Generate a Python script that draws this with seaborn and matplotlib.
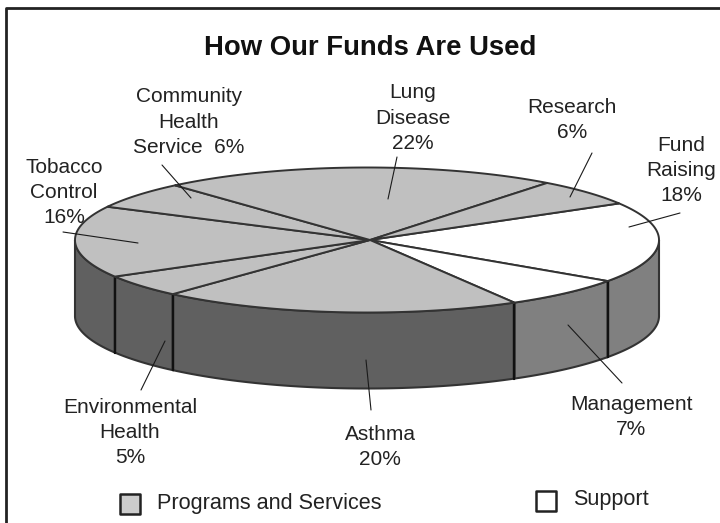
import numpy as np
import pandas as pd
import matplotlib
matplotlib.use("Agg")
import matplotlib.pyplot as plt
import seaborn as sns

# clockwise from the research / fund raising boundary
categories = ["Fund\nRaising\n18%", "Management\n7%", "Asthma\n20%", "Environmental\nHealth\n5%",
              "Tobacco\nControl\n16%", "Community\nHealth\nService  6%", "Lung\nDisease\n22%", "Research\n6%"]
shares = [18, 7, 20, 5, 16, 6, 22, 6]
groups = ["Support", "Support", "Programs", "Programs", "Programs", "Programs", "Programs", "Programs"]
legend_labels = ["Programs and Services", "Support"]

START = -30.3  # degrees, measured clockwise from 3 o'clock
CX, CY, RX, RY = 367, 240, 292, 72.5
HUB = (370, 240)
DEPTH = 76
TOP = {"Programs": "#c0c0c0", "Support": "#ffffff"}
WALL = {"Programs": "#606060", "Support": "#808080"}
EDGE = "#333333"
TEXT = "#222222"

# label centre and leader line (pixels)
label_pos = [(681, 170.5), (631, 417), (380, 447), (130, 432.5), (64, 192.5), (189, 122), (413, 118), (572, 120)]
leaders = [((680, 213), (629, 227)), ((622, 383), (568, 325)), ((371, 410), (366, 360)),
           ((141, 390), (165, 341)), ((63, 232), (138, 243)), ((162, 165), (191, 198)),
           ((397, 157), (388, 199)), ((592, 153), (570, 197))]


def rim(a1, a2, dy=0):
    """Points along the ellipse between two angles in degrees."""
    t = np.radians(np.linspace(a1, a2, max(int(abs(a2 - a1) * 2), 2)))
    return CX + RX * np.cos(t), CY + dy + RY * np.sin(t)


def main():
    sns.set_theme(style="white")
    plt.rcParams["font.family"] = ["Liberation Sans", "DejaVu Sans"]

    fig = plt.figure(figsize=(7.2, 5.23), dpi=100, facecolor="white")
    ax = fig.add_axes([0, 0, 1, 1])
    ax.set_xlim(0, 720)
    ax.set_ylim(523, 0)
    ax.axis("off")

    angles = START + np.cumsum([0] + shares) * 3.6

    # side walls, only the part between 0 and 180 degrees is seen
    for a1, a2, g in zip(angles[:-1], angles[1:], groups):
        lo, hi = max(a1, 0), min(a2, 180)
        if lo >= hi:
            continue
        x1, y1 = rim(lo, hi)
        x2, y2 = rim(hi, lo, DEPTH)
        ax.fill(np.r_[x1, x2], np.r_[y1, y2], fc=WALL[g], ec=EDGE, lw=1.5, zorder=2)
        for a in (lo, hi):
            if 0 < a < 180:
                x, y = rim(a, a)
                ax.plot([x[0], x[0]], [y[0], y[0] + DEPTH], color="#111111", lw=1.6, zorder=3)

    # top face
    for a1, a2, g in zip(angles[:-1], angles[1:], groups):
        x, y = rim(a1, a2)
        ax.fill(np.r_[HUB[0], x], np.r_[HUB[1], y], fc=TOP[g], ec=EDGE, lw=1.4, joinstyle="round", zorder=4)

    for (p, q) in leaders:
        ax.plot([p[0], q[0]], [p[1], q[1]], color="#1a1a1a", lw=0.8, zorder=5)

    for label, (x, y) in zip(categories, label_pos):
        ax.text(x, y, label, ha="center", va="center", fontsize=15, linespacing=1.42,
                color=TEXT, zorder=6)

    ax.text(370, 48, "How Our Funds Are Used", ha="center", va="center", fontsize=19.8,
            fontweight="bold", color="#111111")

    # legend
    swatches = pd.DataFrame({"x": [130, 546], "y": [504, 501], "g": ["Programs", "Support"]})
    sns.scatterplot(data=swatches, x="x", y="y", hue="g", palette={"Programs": "#cccccc", "Support": "#ffffff"},
                    marker="s", s=210, edgecolor="#222222", linewidth=1.8, legend=False, ax=ax, zorder=5)
    ax.set_xlim(0, 720)
    ax.set_ylim(523, 0)
    ax.axis("off")
    ax.text(157, 504, legend_labels[0], ha="left", va="center", fontsize=15.6, color=TEXT)
    ax.text(573, 500, legend_labels[1], ha="left", va="center", fontsize=15.6, color=TEXT)

    # frame, only top and left are there
    ax.plot([6, 6, 720], [523, 8, 8], color="#222222", lw=2, zorder=1)

    fig.savefig("out.png", dpi=100)


if __name__ == "__main__":
    main()
